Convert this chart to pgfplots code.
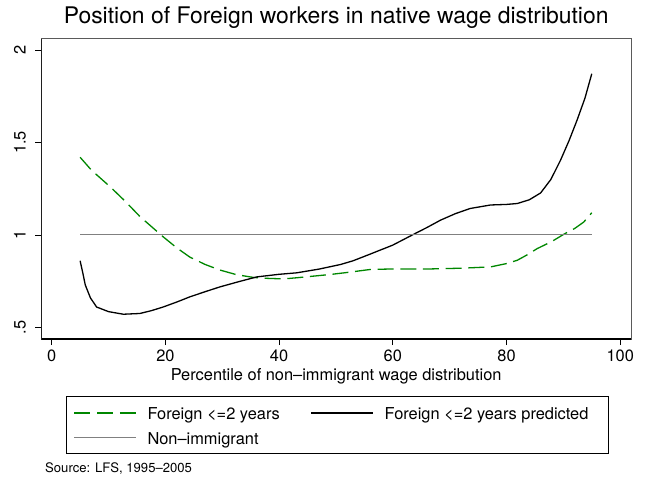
\documentclass[border=0pt]{standalone}
\usepackage{fontspec}
\setmainfont{TeX Gyre Heros}
\usepackage{pgfplots}
\pgfplotsset{compat=1.18}
\definecolor{stgreen}{RGB}{0,135,0}
\definecolor{stgray}{RGB}{128,128,128}
\definecolor{frame}{RGB}{90,90,90}
\begin{document}
\begin{tikzpicture}
\begin{axis}[
  at={(0,0)}, anchor=south west,
  scale only axis, width=589.7bp, height=300.2bp,
  xmin=-1.83, xmax=101.9, ymin=0.437, ymax=2.061,
  xtick={0,20,40,60,80,100},
  ytick={0.5,1,1.5,2}, yticklabels={.5,1,1.5,2},
  tick align=outside, major tick length=6bp,
  tick style={black, line width=0.8bp},
  xtick pos=bottom, ytick pos=left,
  axis line style={frame, line width=0.8bp},
  /pgf/number format/assume math mode=true,
  tick label style={font=\fontsize{16.4bp}{19bp}\selectfont},
  xticklabel style={anchor=base}, xticklabel shift=16.7bp,
  yticklabel style={rotate=90, anchor=base}, yticklabel shift=9.7bp,
  label style={font=\fontsize{16.4bp}{19bp}\selectfont},
  xlabel={Percentile of non–immigrant wage distribution},
  xlabel style={at={(axis description cs:0.5,0)}, anchor=base, yshift=-41bp},
  title={Position of Foreign workers in native wage distribution},
  title style={font=\fontsize{22.9bp}{26bp}\selectfont, at={(axis description cs:0.5,1)}, anchor=base, yshift=9.5bp},
  legend columns=2,
  legend image code/.code={\draw[#1] (0bp,6.3bp) -- (61.5bp,6.3bp);},
  legend style={
    at={(rel axis cs:0.04189,-0.18887)}, anchor=north west,
    draw=black, line width=0.8bp,
    inner xsep=7.3bp, inner ysep=6bp,
    font=\fontsize{16.4bp}{19bp}\selectfont,
    nodes={anchor=base west, inner sep=0pt, text height=17.3bp, text depth=3.7bp},
    column sep=11bp, row sep=3.6bp,
    /tikz/every even column/.append style={column sep=31bp},
  },
]
\addplot[stgreen, line width=1.3bp, dash pattern=on 16bp off 6.7bp] coordinates {
(5,1.42) (7,1.35) (10.3,1.26) (13,1.18) (15.5,1.10) (19.6,0.99) (22,0.93)
(24.3,0.88) (27,0.84) (29.6,0.81) (32.5,0.785) (35.5,0.77) (38,0.765)
(40.8,0.762) (43,0.768) (46,0.777) (49,0.786) (52,0.797) (56,0.813)
(60,0.816) (66.6,0.816) (72,0.82) (77.2,0.827) (80,0.845) (81.9,0.863)
(83.5,0.89) (85.4,0.926) (88,0.965) (90.1,1.004) (92,1.035) (93.6,1.07) (95,1.12)
};
\addlegendentry{Foreign <=2 years}
\addplot[black, line width=1.3bp] coordinates {
(5,0.86) (5.5,0.79) (5.9,0.73) (6.8,0.66) (7.9,0.61) (10,0.585) (12.6,0.571)
(15.5,0.575) (17.5,0.59) (19.6,0.61) (22,0.637) (24.3,0.665) (27,0.693)
(29.6,0.719) (33,0.748) (36.1,0.773) (40,0.787) (43.1,0.795) (47,0.815)
(50.8,0.84) (53,0.86) (56,0.896) (60,0.945) (63.7,1.004) (66,1.04) (68.4,1.08)
(71,1.115) (73.6,1.143) (77.2,1.162) (80,1.165) (81.9,1.17) (84,1.19) (86,1.227)
(87.8,1.3) (89.5,1.404) (91,1.51) (92.4,1.62) (93.8,1.74) (95,1.872)
};
\addlegendentry{\makebox[216.7bp][l]{Foreign <=2 years predicted}}
\addplot[stgray, line width=1.1bp] coordinates {(5,1) (95,1)};
\addlegendentry{Non–immigrant}
\draw[black, line width=1.1bp] (rel axis cs:0,1) -- (rel axis cs:0,0) -- (rel axis cs:1,0);
\end{axis}
\node[anchor=base west, inner sep=0pt, font=\fontsize{13.1bp}{15bp}\selectfont] at (3.7bp,-133.3bp) {Source: LFS, 1995–2005};
\pgfresetboundingbox
\path (-41.3bp,-144bp) rectangle (605.7bp,339bp);
\end{tikzpicture}
\end{document}
